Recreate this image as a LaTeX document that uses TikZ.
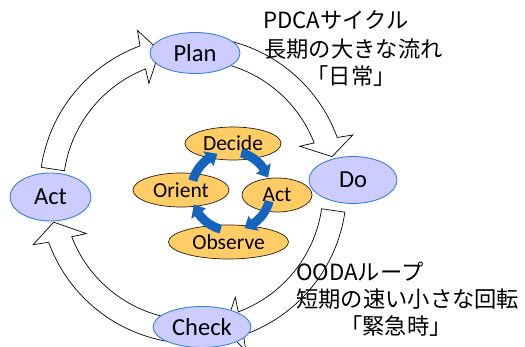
\documentclass[tikz,border=0pt]{standalone}
\usepackage{fontspec}
\setmainfont{Carlito}
\newfontfamily\jpfont{Noto Sans CJK JP}
\usetikzlibrary{shapes.geometric}
\definecolor{pdcafill}{RGB}{204,204,255}
\definecolor{pdcaline}{RGB}{58,128,218}
\definecolor{oodafill}{RGB}{255,204,102}
\definecolor{oodaline}{RGB}{40,30,10}
\definecolor{oodaarrow}{RGB}{21,101,192}
% big curved block arrow: #1 centre, #2 tail angle, #3 head-base angle, #4 tip angle
\newcommand\bigArc[4]{%
  \pgfmathsetmacro\bAo{#3-0.6}%
  \pgfmathsetmacro\bAi{#3+0.6}%
  \pgfmathsetmacro\bFo{#3-1.6}%
  \pgfmathsetmacro\bFi{#3+1.7}%
  \draw[ringarrow] ([shift={(#1)}]#2:153.5pt) arc[start angle=#2, end angle=\bAo, radius=153.5pt]
    -- ([shift={(#1)}]\bFo:169pt) -- ([shift={(#1)}]#4:143pt) -- ([shift={(#1)}]\bFi:115.3pt)
    -- ([shift={(#1)}]\bAi:130pt) arc[start angle=\bAi, end angle=#2, radius=130pt] -- cycle;}
% small blue curved arrow: #1 centre, #2 tail angle
\newcommand\smallArc[2]{%
  \pgfmathsetmacro\sB{#2-40}%
  \pgfmathsetmacro\sT{#2-55}%
  \fill[oodaarrow] ([shift={(#1)}]#2:44pt) arc[start angle=#2, end angle=\sB, radius=44pt]
    -- ([shift={(#1)}]\sB:48.5pt) -- ([shift={(#1)}]\sT:39.5pt) -- ([shift={(#1)}]\sB:30.5pt)
    -- ([shift={(#1)}]\sB:35pt) arc[start angle=\sB, end angle=#2, radius=35pt] -- cycle;}
\begin{document}
\begin{tikzpicture}[x=1pt,y=1pt,
  ringarrow/.style={draw=black, fill=white, line width=0.7pt, line join=miter},
  pdca/.style={ellipse, draw=pdcaline, fill=pdcafill, line width=0.9pt, inner sep=0pt,
    font=\fontsize{24.5}{29}\selectfont},
  ooda/.style={ellipse, draw=oodaline, fill=oodafill, line width=0.7pt, inner sep=0pt,
    font=\fontsize{21.5}{26}\selectfont},
  jp/.style={inner sep=0pt, font=\jpfont\fontsize{22.3}{27}\selectfont}]
\useasboundingbox (0,0) rectangle (525,347);
\coordinate (ring) at (193,157);
\coordinate (hub) at (231,156);
% outer PDCA cycle arrows
\bigArc{ring}{171.5}{110.8}{103.5}
\bigArc{ring}{80}{20.6}{13.5}
\bigArc{ring}{-8.3}{-70.2}{-77.3}
\bigArc{ring}{262}{200.5}{193}
% PDCA nodes
\node[pdca, minimum width=90pt, minimum height=41pt] (plan) at (195,294) {Plan};
\node[pdca, minimum width=88pt, minimum height=47pt] (do) at (353,167) {Do};
\node[pdca, minimum width=81pt, minimum height=48pt] (act) at (50.5,150) {Act};
\node[pdca, minimum width=98pt, minimum height=41pt] (check) at (202,20) {Check};
% OODA nodes
\node[ooda, minimum width=96pt, minimum height=33pt] (decide) at (233,203.5) {Decide};
\node[ooda, minimum width=96pt, minimum height=34pt] (orient) at (181,157) {Orient};
\node[ooda, minimum width=70pt, minimum height=34pt] (oact) at (277,152) {Act};
\node[ooda, minimum width=120pt, minimum height=34pt] (observe) at (228.5,105) {Observe};
% OODA loop arrows
\smallArc{hub}{165}
\smallArc{hub}{75}
\smallArc{hub}{-15}
\smallArc{hub}{-105}
% texts
\node[jp, anchor=base west] (pdcaA) at (263,318) {PDCAサイクル};
\node[jp, anchor=base west] (pdcaB) at (264,289.5) {長期の大きな流れ};
\node[jp, anchor=base] (pdcaC) at (351,262) {「日常」};
\node[jp, anchor=base west] (oodaA) at (296,66) {OODAループ};
\node[jp, anchor=base west] (oodaB) at (296,39) {短期の速い小さな回転};
\node[jp, anchor=base] (oodaC) at (396,12) {「緊急時」};
\end{tikzpicture}
\end{document}
